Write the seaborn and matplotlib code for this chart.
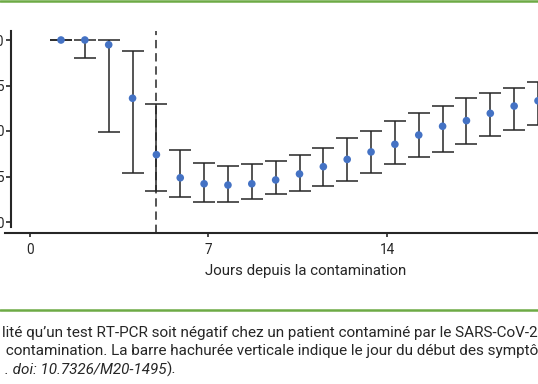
import numpy as np
import pandas as pd
import matplotlib
matplotlib.use("Agg")
import matplotlib.pyplot as plt
from matplotlib.lines import Line2D
import seaborn as sns

# ---------------- data ----------------
days = list(range(1, 22))
prob = [1.00, 1.00, 0.974, 0.68, 0.37, 0.243, 0.21, 0.203, 0.21, 0.231, 0.264,
        0.304, 0.344, 0.385, 0.427, 0.478, 0.526, 0.557, 0.597, 0.637, 0.666]
upper = [1.00, 1.00, 1.00, 0.94, 0.65, 0.395, 0.324, 0.306, 0.317, 0.337, 0.37,
         0.408, 0.463, 0.502, 0.557, 0.597, 0.637, 0.68, 0.707, 0.738, 0.771]
lower = [1.00, 0.90, 0.495, 0.27, 0.17, 0.139, 0.11, 0.11, 0.128, 0.154, 0.172,
         0.20, 0.227, 0.268, 0.319, 0.355, 0.385, 0.429, 0.473, 0.505, 0.535]
symptom_day = 5
y_ticks = [0.0, 0.25, 0.5, 0.75, 1.0]
y_ticklabels = ["0.00", "0.25", "0.50", "0.75", "1.00"]
x_ticklabels = ["0", "7", "14"]
x_label = "Jours depuis la contamination"
caption1 = "lité qu\u2019un test RT-PCR soit négatif chez un patient contaminé par le SARS-CoV-2"
caption2 = " contamination. La barre hachurée verticale indique le jour du début des symptômes"
caption3_it = ". doi: 10.7326/M20-1495"
caption3_end = ")."

df = pd.DataFrame({"day": days, "prob": prob, "upper": upper, "lower": lower})

# ---------------- style ----------------
sns.set_style("white")
plt.rcParams["font.family"] = ["Roboto", "DejaVu Sans"]
plt.rcParams["lines.scale_dashes"] = False

W, H = 538, 384
fig = plt.figure(figsize=(W / 100, H / 100), dpi=100)

# pixel layout helpers
P1, PPD = 61.0, 23.85          # pixel of day 1, pixels per day
def dx(px):
    return 1 + (px - P1) / PPD
Y0, PPU = 222.0, 182.0         # pixel of value 0, pixels per unit
def vy(py):
    return (Y0 - py) / PPU

ax_l, ax_r, ax_t, ax_b = 5, 575, 31, 233
ax = fig.add_axes([ax_l / W, 1 - ax_b / H, (ax_r - ax_l) / W, (ax_b - ax_t) / H])
ax.set_xlim(dx(ax_l), dx(ax_r))
ax.set_ylim(vy(ax_b), vy(ax_t))

dark = "#262626"
blue = "#4472C4"

# error bars
yerr = np.vstack([df["prob"] - df["lower"], df["upper"] - df["prob"]])
ax.errorbar(df["day"], df["prob"], yerr=yerr, fmt="none", ecolor=dark,
            elinewidth=1.1, capsize=7.6, capthick=1.1, zorder=2, clip_on=False)
# points
sns.scatterplot(data=df, x="day", y="prob", ax=ax, color=blue, s=30,
                edgecolor="none", zorder=3, clip_on=False, legend=False)

# symptom onset dashed line
ax.axvline(symptom_day, color=dark, lw=1.1, linestyle=(0, (6, 3.5)), zorder=1)

# spines
for s in ["top", "right"]:
    ax.spines[s].set_visible(False)
for s in ["left", "bottom"]:
    ax.spines[s].set_color(dark)
    ax.spines[s].set_linewidth(1.5)
ax.spines["left"].set_position(("data", dx(11)))
ax.spines["left"].set_bounds(vy(227), vy(31))

ax.set_yticks(y_ticks)
ax.set_yticklabels(y_ticklabels)
ax.set_xticks([dx(30), dx(208), dx(387)])
ax.set_xticklabels(x_ticklabels)
ax.tick_params(axis="y", direction="out", length=3.4, width=1.2, colors=dark,
               pad=1.2, labelsize=9.8, left=True)
ax.tick_params(axis="x", direction="out", length=3.0, width=1.2, colors=dark,
               pad=4.2, labelsize=9.8, bottom=True)
ax.set_xlabel(x_label, fontsize=10.8, color=dark)
ax.set_ylabel("")
ax.xaxis.set_label_coords((306 - ax_l) / (ax_r - ax_l), -(264 - ax_b) / (ax_b - ax_t))
ax.xaxis.label.set_verticalalignment("top")
ax.grid(False)

# green rules
green = "#6DAA45"
fig.add_artist(Line2D([0, 1], [1 - 1.2 / H, 1 - 1.2 / H], color=green, lw=1.8,
                      transform=fig.transFigure))
fig.add_artist(Line2D([0, 1], [1 - 309.5 / H, 1 - 309.5 / H], color=green, lw=1.8,
                      transform=fig.transFigure))

# caption, fitted to the visible width
renderer = fig.canvas.get_renderer()
t1 = fig.text(2 / W, 1 - 333 / H, caption1, fontsize=10, color=dark, va="center", ha="left")
w = t1.get_window_extent(renderer).width
fs = 10 * (535 / w)
t1.set_fontsize(fs)
fig.text(2 / W, 1 - 351 / H, caption2, fontsize=fs, color=dark, va="center", ha="left")
t3 = fig.text(5 / W, 1 - 369.5 / H, caption3_it, fontsize=fs, color=dark, va="center",
              ha="left", style="italic")
e3 = t3.get_window_extent(renderer)
fig.text((e3.x1 + 0.5) / W, 1 - 369.5 / H, caption3_end, fontsize=fs, color=dark,
         va="center", ha="left")

fig.savefig("out.png", dpi=100)
